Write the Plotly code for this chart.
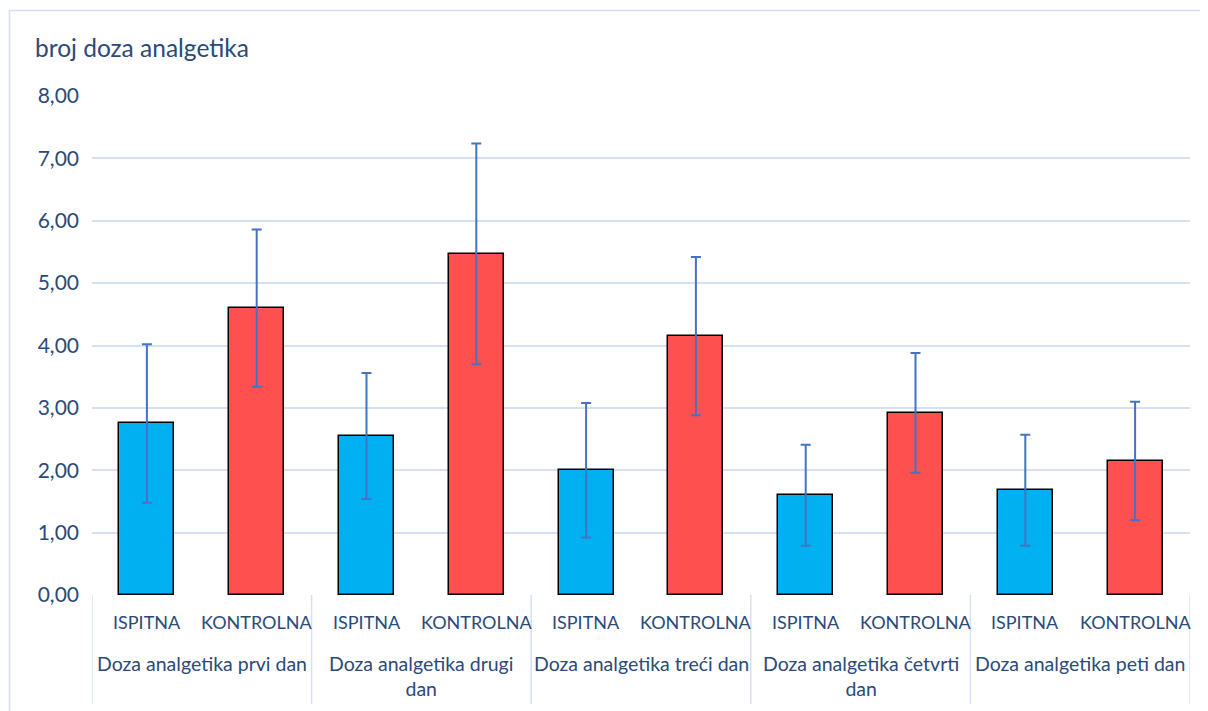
import plotly.graph_objects as go

groups = ["Doza analgetika prvi dan", "Doza analgetika drugi<br>dan", "Doza analgetika treći dan",
          "Doza analgetika četvrti<br>dan", "Doza analgetika peti dan"]
series_names = ["ISPITNA", "KONTROLNA"]
ispitna = [2.75, 2.55, 2.00, 1.60, 1.68]
ispitna_sd = [1.27, 1.01, 1.08, 0.81, 0.89]
kontrolna = [4.60, 5.47, 4.15, 2.92, 2.15]
kontrolna_sd = [1.26, 1.77, 1.27, 0.96, 0.95]
y_ticks = [0, 1, 2, 3, 4, 5, 6, 7, 8]

TXT = "#2B4A78"
FONT = "Lato"
OFF = 8  # page body margin
W, H = 1208 - OFF, 711 - OFF
L, R, T, B = 92 - OFF, 18, 96 - OFF, 116
ph = H - T - B

def py(p):
    # p is a page pixel y coordinate
    return (711 - B - p) / ph

def px(p):
    return (p - 92) / (W - L - R)

fig = go.Figure()
x_isp = [2 * i for i in range(len(groups))]
x_kon = [2 * i + 1 for i in range(len(groups))]
for xs, ys, sd, col in [(x_isp, ispitna, ispitna_sd, "#00B0F0"), (x_kon, kontrolna, kontrolna_sd, "#FF5050")]:
    fig.add_trace(go.Bar(
        x=xs, y=ys, width=0.5,
        marker=dict(color=col, line=dict(color="black", width=1.5)),
        error_y=dict(type="data", array=sd, visible=True, color="#4472C4", thickness=2, width=5),
        showlegend=False,
    ))

n = 2 * len(groups)
annotations = []
for i in range(n):
    annotations.append(dict(x=i, y=py(622), xref="x", yref="paper", text=series_names[i % 2],
                            showarrow=False, font=dict(family=FONT, size=18, color=TXT),
                            xanchor="center", yanchor="middle"))
for g, name in enumerate(groups):
    annotations.append(dict(x=2 * g + 0.5, y=py(650), xref="x", yref="paper", text=name,
                            showarrow=False, font=dict(family=FONT, size=19.5, color=TXT),
                            xanchor="center", yanchor="top", align="center"))
annotations.append(dict(x=px(33), y=py(47), xref="paper", yref="paper",
                        text="broj doza analgetika", showarrow=False,
                        font=dict(family=FONT, size=24.5, color=TXT), xanchor="left", yanchor="middle"))

shapes = []
for k in range(len(groups) + 1):
    shapes.append(dict(type="line", xref="x", yref="paper", x0=2 * k - 0.5, x1=2 * k - 0.5,
                       y0=0, y1=py(704), line=dict(color="#D6E0F2", width=1.5)))
shapes.append(dict(type="rect", xref="paper", yref="paper",
                   x0=px(9.5), x1=1.5, y0=py(712), y1=py(10.5),
                   line=dict(color="#D6E0F2", width=1.5), fillcolor="rgba(0,0,0,0)", layer="below"))

fig.update_layout(
    width=W, height=H,
    margin=dict(l=L, r=R, t=T, b=B),
    paper_bgcolor="white", plot_bgcolor="white",
    bargap=0, barmode="overlay",
    xaxis=dict(range=[-0.5, n - 0.5], showticklabels=False, showgrid=False, zeroline=False,
               showline=False, fixedrange=True),
    yaxis=dict(range=[0, 8], tickvals=y_ticks, ticktext=[f"{v:.2f}".replace(".", ",") for v in y_ticks],
               showgrid=True, gridcolor="#D6E0F2", gridwidth=1.5, zeroline=False,
               showline=False, ticks="", ticklabelstandoff=12,
               tickfont=dict(family=FONT, size=21, color=TXT)),
    annotations=annotations, shapes=shapes,
    font=dict(family=FONT, color=TXT),
)
fig.write_html("out.html")
